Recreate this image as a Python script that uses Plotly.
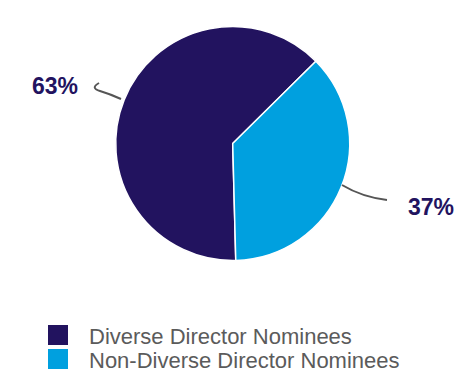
import plotly.graph_objects as go

labels = ["Diverse Director Nominees", "Non-Diverse Director Nominees"]
values = [63, 37]
colors = ["#22135f", "#00a0df"]
pct_labels = ["63%", "37%"]

W, H = 462, 380

def px(x):
    return x / W

def py(y):
    return 1 - y / H

fig = go.Figure()
fig.add_trace(go.Pie(
    labels=labels,
    values=values,
    sort=False,
    direction="clockwise",
    rotation=178.5,
    marker=dict(colors=colors, line=dict(color="white", width=1.5)),
    textinfo="none",
    hoverinfo="label+percent",
    showlegend=False,
    domain=dict(x=[px(232.7 - 117), px(232.7 + 117)], y=[py(260.5), py(26.5)]),
))

# percentage labels
label_pos = [(55, 86), (431, 207)]
for t, (x, y) in zip(pct_labels, label_pos):
    fig.add_annotation(text=t, x=px(x), y=py(y), xref="paper", yref="paper",
                       showarrow=False, xanchor="center", yanchor="middle",
                       font=dict(family="Liberation Sans, Arial", size=23, color="#22135f", weight="bold"))

# connector curves
shapes = [
    dict(type="path", xref="paper", yref="paper",
         path=f"M {px(99)},{py(83)} Q {px(90)},{py(88)} {px(100)},{py(91)} Q {px(110)},{py(94)} {px(121)},{py(99)}",
         line=dict(color="#555555", width=2)),
    dict(type="path", xref="paper", yref="paper",
         path=f"M {px(342)},{py(185)} Q {px(362)},{py(197)} {px(387)},{py(200)}",
         line=dict(color="#555555", width=2)),
]

# legend
leg_y = [335, 359]
for lab, col, y in zip(labels, colors, leg_y):
    shapes.append(dict(type="rect", xref="paper", yref="paper",
                       x0=px(48), x1=px(68), y0=py(y + 10), y1=py(y - 10),
                       fillcolor=col, line=dict(width=0)))
    fig.add_annotation(text=lab, x=px(87), y=py(y + 1), xref="paper", yref="paper",
                       showarrow=False, xanchor="left", yanchor="middle",
                       font=dict(family="Liberation Sans, Arial", size=22, color="#5b5b5b"))

fig.update_layout(
    width=W, height=H,
    margin=dict(l=0, r=0, t=0, b=0),
    paper_bgcolor="white",
    plot_bgcolor="white",
    shapes=shapes,
)

fig.write_html("out.html", config={"displayModeBar": False},
               post_script="document.body.style.margin='0';document.body.style.overflow='hidden';")
